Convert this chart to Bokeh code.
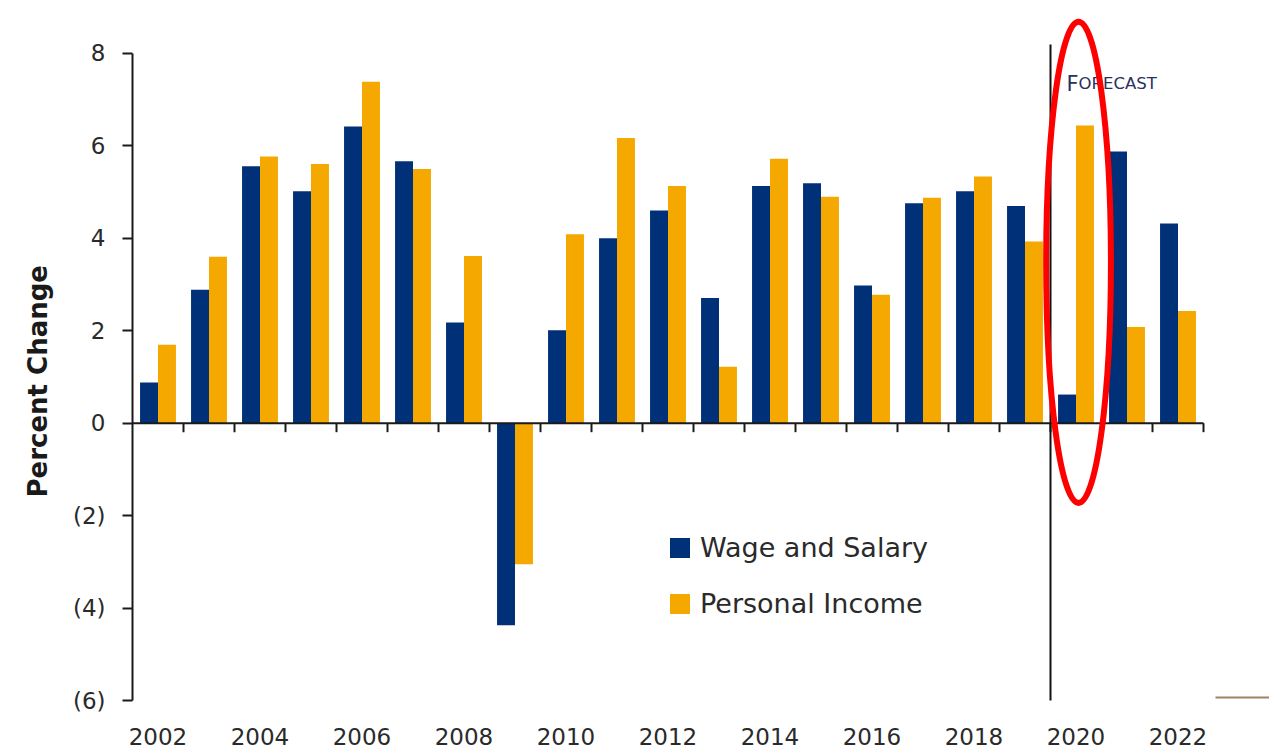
from bokeh.plotting import figure
from bokeh.models import ColumnDataSource, FixedTicker, Legend, LegendItem, Range1d, Title
from bokeh.transform import dodge
from bokeh.embed import file_html
from bokeh.resources import INLINE
from bokeh.core.properties import value

# ---- data ----
years = list(range(2002, 2023))
wage_salary = [0.88, 2.89, 5.56, 5.02, 6.42, 5.67, 2.18, -4.37, 2.01, 4.00, 4.60,
               2.71, 5.13, 5.19, 2.98, 4.76, 5.02, 4.70, 0.62, 5.88, 4.32]
personal_income = [1.70, 3.60, 5.77, 5.61, 7.39, 5.50, 3.62, -3.05, 4.09, 6.17, 5.13,
                   1.22, 5.72, 4.90, 2.78, 4.88, 5.34, 3.93, 6.44, 2.08, 2.43]
y_ticks = [-6, -4, -2, 0, 2, 4, 6, 8]
y_tick_labels = ["(6)", "(4)", "(2)", "0", "2", "4", "6", "8"]
x_tick_years = [y for y in years if y % 2 == 0]
series_names = ["Wage and Salary", "Personal Income"]
y_axis_title = "Percent Change"
forecast_start = 2020
highlight_year = 2020

NAVY = "#003078"
ORANGE = "#F5A800"
FONT = "DejaVu Sans"
TXT = "#2a2a2a"

px_per_x = 51.0      # pixels per year
px_per_unit = 46.4   # pixels per percentage point
x_lo, x_hi = years[0] - 0.5, years[-1] + 0.5
frame_x_hi = x_lo + (1269 - 132) / px_per_x

p = figure(width=1269, height=756, output_backend="svg", toolbar_location=None,
           x_range=Range1d(x_lo, frame_x_hi), y_range=Range1d(-6, 8.93),
           min_border_left=132, min_border_right=0, min_border_top=10, min_border_bottom=56)
p.outline_line_color = None
p.xgrid.visible = False
p.ygrid.visible = False
p.background_fill_color = "white"
p.border_fill_color = "white"

src = ColumnDataSource(dict(year=years, wage=wage_salary, income=personal_income))
r1 = p.vbar(x=dodge("year", -0.176), top="wage", bottom=0, width=0.352,
            source=src, fill_color=NAVY, line_color=None)
r2 = p.vbar(x=dodge("year", 0.176), top="income", bottom=0, width=0.352,
            source=src, fill_color=ORANGE, line_color=None)

# zero line with category-boundary ticks
p.segment(x0=[x_lo], x1=[x_hi], y0=[0], y1=[0], line_color="#1a1a1a", line_width=2)
bounds = [y + 0.5 for y in years]
p.segment(x0=bounds, x1=bounds, y0=[0] * len(bounds), y1=[-9 / px_per_unit] * len(bounds),
          line_color="#1a1a1a", line_width=2)

# forecast divider
fx = forecast_start - 0.5
p.segment(x0=[fx], x1=[fx], y0=[-6 - 3 / px_per_unit], y1=[8 + 9 / px_per_unit],
          line_color="#111111", line_width=2)
p.text(x=[fx], y=[8 - 30.5 / px_per_unit], text=["F"], x_offset=16,
       text_font=value(FONT), text_font_size="21px", text_color="#2a3060",
       text_baseline="alphabetic", text_align="left")
p.text(x=[fx], y=[8 - 30.5 / px_per_unit], text=["ORECAST"], x_offset=28,
       text_font=value(FONT), text_font_size="16.5px", text_color="#2a3060",
       text_baseline="alphabetic", text_align="left")

# red highlight ellipse
p.ellipse(x=[highlight_year + 0.05], y=[3.48], width=1.27, height=10.41, fill_color=None,
          line_color="#FF0000", line_width=6)

# slide decoration at bottom right
p.segment(x0=[x_hi + 12 / px_per_x], x1=[frame_x_hi], y0=[-6 + 3 / px_per_unit],
          y1=[-6 + 3 / px_per_unit], line_color="#9C8460", line_width=2)

# axes
p.yaxis.ticker = FixedTicker(ticks=y_ticks)
p.yaxis.major_label_overrides = {t: l for t, l in zip(y_ticks, y_tick_labels)}
p.yaxis.bounds = (-6, 8)
p.yaxis.axis_line_width = 2
p.yaxis.axis_line_color = "#1a1a1a"
p.yaxis.major_tick_line_width = 2
p.yaxis.major_tick_line_color = "#1a1a1a"
p.yaxis.major_tick_out = 10
p.yaxis.major_tick_in = 0
p.yaxis.minor_tick_line_color = None
p.yaxis.major_label_standoff = 17
p.yaxis.major_label_text_font = FONT
p.yaxis.major_label_text_font_size = "23px"
p.yaxis.major_label_text_color = TXT

# y-axis title as a left-side title, placed along the labelled span like the original
p.add_layout(Title(text=y_axis_title, align="left", offset=203, standoff=34,
                   text_font=FONT, text_font_style="bold", text_font_size="26px",
                   text_color="#1a1a1a"), "left")

p.xaxis.ticker = FixedTicker(ticks=x_tick_years)
p.xaxis.axis_line_color = None
p.xaxis.major_tick_line_color = None
p.xaxis.minor_tick_line_color = None
p.xaxis.major_tick_out = 0
p.xaxis.major_tick_in = 0
p.xaxis.major_label_standoff = 27
p.xaxis.major_label_text_font = FONT
p.xaxis.major_label_text_font_size = "23px"
p.xaxis.major_label_text_color = TXT

legend = Legend(items=[LegendItem(label=series_names[0], renderers=[r1]),
                       LegendItem(label=series_names[1], renderers=[r2])],
                location=(535, 81), orientation="vertical",
                glyph_width=25, glyph_height=25, label_standoff=8, spacing=25,
                padding=0, margin=0, border_line_color=None, background_fill_alpha=0,
                label_text_font=FONT, label_text_font_size="27px", label_text_color=TXT)
p.add_layout(legend)

open("out.html", "w").write(file_html(p, INLINE))
